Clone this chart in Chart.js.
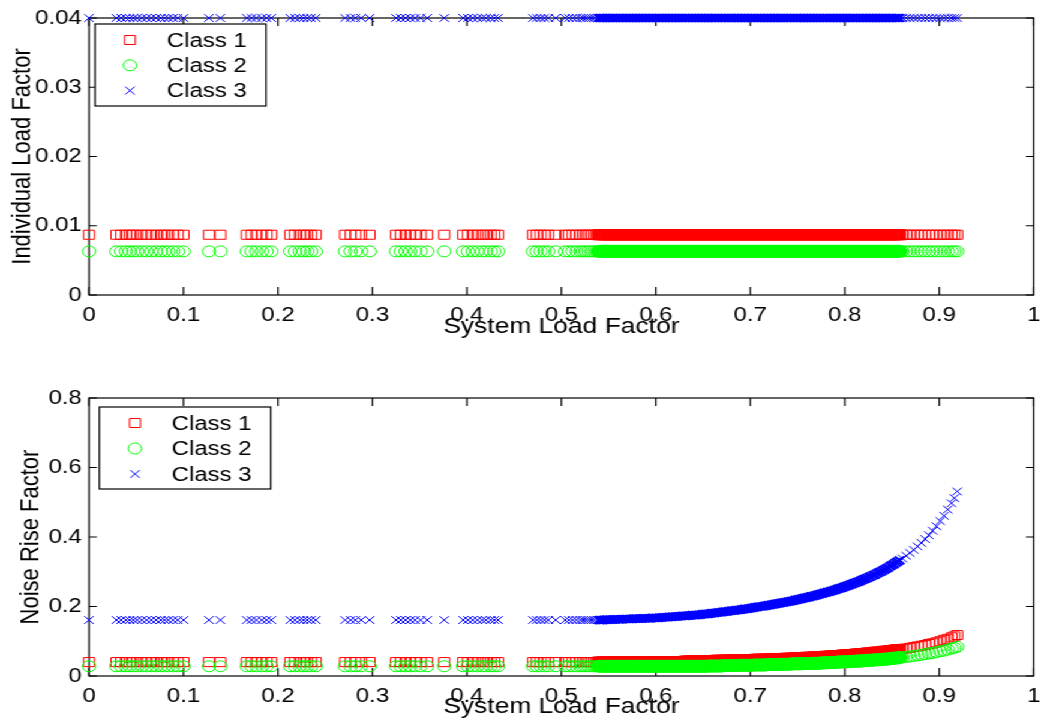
<!DOCTYPE html>
<html>
<head>
<meta charset="utf-8">
<script src="https://cdn.jsdelivr.net/npm/chart.js@4.4.0/dist/chart.umd.min.js"></script>
<style>
  html, body { margin: 0; padding: 0; background: #fff; overflow: hidden; }
  /* the original figure is stretched sideways, so draw narrower and widen it */
  #wrap { position: absolute; left: 0; top: 0; width: 875px; height: 722px; transform: scaleX(1.2); transform-origin: 0 0; }
  canvas { display: block; }
</style>
</head>
<body>
<div id="wrap">
  <canvas id="chart-load" width="875" height="361"></canvas>
  <canvas id="chart-noise" width="875" height="361"></canvas>
</div>
<script>
// ── Series ──────────────────────────────────────────────
const seriesNames = ['Class 1', 'Class 2', 'Class 3'];
const seriesColors = ['#ff0000', '#00ff00', '#0000ff'];
const seriesMarkers = ['rect', 'circle', 'crossRot'];

// system load factor, scattered runs below 0.54
const sparseLoad = [0, 0.029, 0.034, 0.039, 0.043, 0.047, 0.051, 0.056, 0.061, 0.066, 0.071, 0.076, 0.080, 0.084, 0.089, 0.094, 0.100,
  0.127, 0.139,
  0.167, 0.172, 0.177, 0.183, 0.188, 0.193,
  0.213, 0.218, 0.223, 0.227, 0.231, 0.235, 0.240,
  0.271, 0.277, 0.282, 0.288, 0.297,
  0.325, 0.330, 0.335, 0.340, 0.345, 0.351, 0.358,
  0.376,
  0.396, 0.401, 0.406, 0.411, 0.416, 0.420, 0.425, 0.429, 0.433,
  0.470, 0.474, 0.478, 0.482, 0.486, 0.494,
  0.504, 0.508, 0.512, 0.516, 0.520, 0.523, 0.526, 0.529, 0.532, 0.535, 0.538];

// dense runs 0.54 .. 0.86
const denseLoad = [
  0.540, 0.542, 0.544, 0.546, 0.548, 0.550, 0.552, 0.554, 0.556, 0.558,
  0.560, 0.562, 0.564, 0.566, 0.568, 0.570, 0.572, 0.574, 0.576, 0.578,
  0.580, 0.582, 0.584, 0.586, 0.588, 0.590, 0.592, 0.594, 0.596, 0.598,
  0.600, 0.602, 0.604, 0.606, 0.608, 0.610, 0.612, 0.614, 0.616, 0.618,
  0.620, 0.622, 0.624, 0.626, 0.628, 0.630, 0.632, 0.634, 0.636, 0.638,
  0.640, 0.642, 0.644, 0.646, 0.648, 0.650, 0.652, 0.654, 0.656, 0.658,
  0.660, 0.662, 0.664, 0.666, 0.668, 0.670, 0.672, 0.674, 0.676, 0.678,
  0.680, 0.682, 0.684, 0.686, 0.688, 0.690, 0.692, 0.694, 0.696, 0.698,
  0.700, 0.702, 0.704, 0.706, 0.708, 0.710, 0.712, 0.714, 0.716, 0.718,
  0.720, 0.722, 0.724, 0.726, 0.728, 0.730, 0.732, 0.734, 0.736, 0.738,
  0.740, 0.742, 0.744, 0.746, 0.748, 0.750, 0.752, 0.754, 0.756, 0.758,
  0.760, 0.762, 0.764, 0.766, 0.768, 0.770, 0.772, 0.774, 0.776, 0.778,
  0.780, 0.782, 0.784, 0.786, 0.788, 0.790, 0.792, 0.794, 0.796, 0.798,
  0.800, 0.802, 0.804, 0.806, 0.808, 0.810, 0.812, 0.814, 0.816, 0.818,
  0.820, 0.822, 0.824, 0.826, 0.828, 0.830, 0.832, 0.834, 0.836, 0.838,
  0.840, 0.842, 0.844, 0.846, 0.848, 0.850, 0.852, 0.854, 0.856, 0.858];

// last runs up to 0.92
const tailLoad = [0.861, 0.865, 0.869, 0.873, 0.877, 0.881, 0.885, 0.889, 0.893, 0.897, 0.901, 0.905, 0.909, 0.913, 0.916, 0.919];

// individual load factor per class (same on every run)
const indivLoad = [0.0087, 0.0063, 0.04];

// noise rise factor for the scattered runs
const noiseFlat = [0.040, 0.028, 0.161];

// noise rise factor for dense + tail runs
const noiseClass1 = [
  0.040, 0.040, 0.040, 0.040, 0.040, 0.040, 0.040, 0.040, 0.040, 0.040,
  0.040, 0.040, 0.040, 0.040, 0.040, 0.040, 0.040, 0.040, 0.040, 0.040,
  0.040, 0.040, 0.040, 0.040, 0.040, 0.040, 0.040, 0.040, 0.041, 0.041,
  0.041, 0.041, 0.041, 0.041, 0.041, 0.041, 0.041, 0.042, 0.042, 0.042,
  0.042, 0.042, 0.042, 0.042, 0.042, 0.042, 0.043, 0.043, 0.043, 0.043,
  0.043, 0.043, 0.043, 0.043, 0.044, 0.044, 0.044, 0.044, 0.044, 0.044,
  0.044, 0.044, 0.045, 0.045, 0.045, 0.045, 0.045, 0.045, 0.045, 0.046,
  0.046, 0.046, 0.046, 0.046, 0.046, 0.046, 0.047, 0.047, 0.047, 0.047,
  0.047, 0.047, 0.047, 0.048, 0.048, 0.048, 0.048, 0.048, 0.048, 0.049,
  0.049, 0.049, 0.049, 0.049, 0.050, 0.050, 0.050, 0.050, 0.050, 0.051,
  0.051, 0.051, 0.051, 0.052, 0.052, 0.052, 0.052, 0.053, 0.053, 0.053,
  0.054, 0.054, 0.054, 0.054, 0.055, 0.055, 0.055, 0.056, 0.056, 0.056,
  0.057, 0.057, 0.057, 0.058, 0.058, 0.058, 0.059, 0.059, 0.059, 0.060,
  0.060, 0.061, 0.061, 0.061, 0.062, 0.062, 0.063, 0.063, 0.064, 0.064,
  0.065, 0.065, 0.066, 0.066, 0.067, 0.067, 0.068, 0.068, 0.069, 0.069,
  0.070, 0.071, 0.071, 0.072, 0.073, 0.073, 0.074, 0.075, 0.076, 0.076,
  0.078, 0.079, 0.081, 0.083, 0.085, 0.087, 0.089, 0.092, 0.094, 0.097, 0.100, 0.104, 0.107, 0.111, 0.114, 0.118];

const noiseClass2 = [
  0.028, 0.028, 0.028, 0.028, 0.028, 0.028, 0.028, 0.028, 0.028, 0.028,
  0.028, 0.028, 0.028, 0.028, 0.028, 0.028, 0.028, 0.028, 0.028, 0.028,
  0.028, 0.028, 0.028, 0.028, 0.028, 0.028, 0.028, 0.028, 0.028, 0.028,
  0.028, 0.028, 0.028, 0.028, 0.028, 0.028, 0.028, 0.028, 0.028, 0.028,
  0.028, 0.028, 0.028, 0.028, 0.028, 0.028, 0.028, 0.028, 0.028, 0.028,
  0.028, 0.028, 0.028, 0.028, 0.028, 0.028, 0.028, 0.028, 0.029, 0.029,
  0.029, 0.029, 0.029, 0.029, 0.029, 0.029, 0.030, 0.030, 0.030, 0.030,
  0.030, 0.030, 0.030, 0.030, 0.031, 0.031, 0.031, 0.031, 0.031, 0.031,
  0.031, 0.031, 0.032, 0.032, 0.032, 0.032, 0.032, 0.032, 0.032, 0.033,
  0.033, 0.033, 0.033, 0.033, 0.033, 0.033, 0.034, 0.034, 0.034, 0.034,
  0.034, 0.034, 0.035, 0.035, 0.035, 0.035, 0.035, 0.035, 0.036, 0.036,
  0.036, 0.036, 0.036, 0.037, 0.037, 0.037, 0.037, 0.037, 0.038, 0.038,
  0.038, 0.038, 0.039, 0.039, 0.039, 0.039, 0.040, 0.040, 0.040, 0.041,
  0.041, 0.041, 0.041, 0.042, 0.042, 0.042, 0.043, 0.043, 0.043, 0.044,
  0.044, 0.044, 0.045, 0.045, 0.045, 0.046, 0.046, 0.047, 0.047, 0.047,
  0.048, 0.048, 0.049, 0.049, 0.050, 0.051, 0.051, 0.052, 0.052, 0.053,
  0.054, 0.055, 0.056, 0.058, 0.059, 0.061, 0.063, 0.065, 0.066, 0.069, 0.071, 0.073, 0.076, 0.079, 0.081, 0.084];

const noiseClass3 = [
  0.161, 0.161, 0.161, 0.162, 0.162, 0.162, 0.162, 0.162, 0.163, 0.163,
  0.163, 0.163, 0.163, 0.164, 0.164, 0.164, 0.164, 0.164, 0.165, 0.165,
  0.165, 0.165, 0.165, 0.166, 0.166, 0.166, 0.166, 0.166, 0.167, 0.167,
  0.167, 0.167, 0.168, 0.168, 0.169, 0.169, 0.169, 0.170, 0.170, 0.171,
  0.171, 0.171, 0.172, 0.172, 0.173, 0.173, 0.173, 0.174, 0.174, 0.175,
  0.175, 0.175, 0.176, 0.176, 0.177, 0.178, 0.178, 0.179, 0.179, 0.180,
  0.181, 0.181, 0.182, 0.183, 0.183, 0.184, 0.185, 0.185, 0.186, 0.187,
  0.188, 0.188, 0.189, 0.190, 0.190, 0.191, 0.192, 0.193, 0.193, 0.194,
  0.195, 0.196, 0.197, 0.198, 0.199, 0.200, 0.200, 0.201, 0.202, 0.203,
  0.204, 0.205, 0.206, 0.207, 0.208, 0.209, 0.210, 0.211, 0.212, 0.213,
  0.214, 0.215, 0.216, 0.217, 0.219, 0.220, 0.221, 0.222, 0.224, 0.225,
  0.226, 0.227, 0.229, 0.230, 0.231, 0.233, 0.234, 0.236, 0.237, 0.239,
  0.240, 0.242, 0.243, 0.245, 0.246, 0.248, 0.250, 0.252, 0.253, 0.255,
  0.257, 0.259, 0.261, 0.263, 0.265, 0.267, 0.269, 0.271, 0.273, 0.276,
  0.278, 0.280, 0.282, 0.285, 0.287, 0.290, 0.292, 0.295, 0.298, 0.300,
  0.303, 0.306, 0.309, 0.312, 0.316, 0.319, 0.322, 0.326, 0.329, 0.333,
  0.338, 0.346, 0.354, 0.363, 0.373, 0.383, 0.394, 0.405, 0.418, 0.431, 0.446, 0.461, 0.479, 0.497, 0.512, 0.531];

const noiseCurves = [noiseClass1, noiseClass2, noiseClass3];

// ── Ticks ───────────────────────────────────────────────
const xTicks = [0, 0.1, 0.2, 0.3, 0.4, 0.5, 0.6, 0.7, 0.8, 0.9, 1];
const xTickLabels = ['0', '0.1', '0.2', '0.3', '0.4', '0.5', '0.6', '0.7', '0.8', '0.9', '1'];
const loadTicks = [0, 0.01, 0.02, 0.03, 0.04];
const loadTickLabels = ['0', '0.01', '0.02', '0.03', '0.04'];
const noiseTicks = [0, 0.2, 0.4, 0.6, 0.8];
const noiseTickLabels = ['0', '0.2', '0.4', '0.6', '0.8'];

// ── Styling helpers ─────────────────────────────────────
const FONT = '"Liberation Sans", Arial, Helvetica, sans-serif';
const tickFont = { family: FONT, size: 20 };
const titleFont = { family: FONT, size: 22 };
const markerRadius = [6.4, 5.5, 5.5];
const denseStart = sparseLoad.length;
const denseEnd = sparseLoad.length + denseLoad.length;

function makeDataset(i, points) {
  return {
    label: seriesNames[i],
    data: points,
    showLine: false,
    pointStyle: seriesMarkers[i],
    pointRadius: markerRadius[i],
    pointHoverRadius: markerRadius[i],
    // overlapping runs in the dense stretch read as a solid band
    pointBorderWidth: c => (c.dataIndex >= denseStart && c.dataIndex < denseEnd ? 2 : 1),
    borderColor: seriesColors[i],
    pointBorderColor: seriesColors[i],
    backgroundColor: 'rgba(0,0,0,0)',
    pointBackgroundColor: 'rgba(0,0,0,0)',
    clip: false,
    order: 2 - i,
  };
}

// MATLAB style box with inward ticks on all four sides
const matlabFrame = {
  id: 'matlabFrame',
  beforeDatasetsDraw(chart) {
    const { ctx, chartArea: a, scales: { x, y } } = chart;
    ctx.save();
    ctx.strokeStyle = '#000';
    ctx.lineWidth = 1.2;
    ctx.strokeRect(a.left, a.top, a.right - a.left, a.bottom - a.top);
    ctx.beginPath();
    x.ticks.forEach(t => {
      const px = x.getPixelForValue(t.value);
      ctx.moveTo(px, a.bottom); ctx.lineTo(px, a.bottom - 8);
      ctx.moveTo(px, a.top); ctx.lineTo(px, a.top + 8);
    });
    y.ticks.forEach(t => {
      const py = y.getPixelForValue(t.value);
      ctx.moveTo(a.left, py); ctx.lineTo(a.left + 6.5, py);
      ctx.moveTo(a.right, py); ctx.lineTo(a.right - 6.5, py);
    });
    ctx.stroke();
    ctx.restore();
  }
};

// boxed legend in the upper-left corner
const boxLegend = {
  id: 'boxLegend',
  afterDatasetsDraw(chart, args, opts) {
    const ctx = chart.ctx;
    ctx.save();
    ctx.fillStyle = '#fff';
    ctx.fillRect(opts.left, opts.top, opts.width, opts.height);
    ctx.strokeStyle = '#000';
    ctx.lineWidth = 1.2;
    ctx.strokeRect(opts.left, opts.top, opts.width, opts.height);
    chart.data.datasets.forEach((ds, i) => {
      const y = opts.top + opts.firstRow + i * opts.rowGap;
      ctx.fillStyle = 'rgba(0,0,0,0)';
      ctx.strokeStyle = ds.borderColor;
      ctx.lineWidth = 1;
      Chart.helpers.drawPoint(ctx, { pointStyle: ds.pointStyle, radius: ds.pointRadius, borderWidth: 1, rotation: 0 }, opts.markerX, y);
      ctx.fillStyle = '#000';
      ctx.font = '20px ' + FONT;
      ctx.textBaseline = 'middle';
      ctx.textAlign = 'left';
      ctx.fillText(ds.label, opts.textX, y + 1);
    });
    ctx.restore();
  }
};

function xAxis(height, titleBottom) {
  return {
    type: 'linear', min: 0, max: 1,
    afterBuildTicks: s => { s.ticks = xTicks.map(v => ({ value: v })); },
    afterFit: s => { s.height = height; },
    grid: { display: false, drawTicks: false },
    border: { display: false },
    ticks: { color: '#000', font: tickFont, padding: 8, maxRotation: 0, autoSkip: false,
      callback: (v, i) => xTickLabels[i] },
    title: { display: true, text: 'System Load Factor', color: '#000', font: titleFont,
      padding: { top: 0, bottom: titleBottom } }
  };
}

function yAxis(max, ticks, labels, title, titleLeft) {
  return {
    type: 'linear', min: 0, max: max,
    afterBuildTicks: s => { s.ticks = ticks.map(v => ({ value: v })); },
    afterFit: s => { s.width = 74.2; },
    grid: { display: false, drawTicks: false },
    border: { display: false },
    ticks: { color: '#000', font: tickFont, padding: 6, autoSkip: false,
      callback: (v, i) => labels[i] },
    title: { display: true, text: title, color: '#000', font: titleFont,
      padding: { top: titleLeft, bottom: 0 } }
  };
}

const allLoad = sparseLoad.concat(denseLoad, tailLoad);
const curveLoad = denseLoad.concat(tailLoad);

// ── Top: individual load factor ─────────────────────────
new Chart(document.getElementById('chart-load'), {
  type: 'scatter',
  data: {
    datasets: [0, 1, 2].map(i => makeDataset(i, allLoad.map(x => ({ x, y: indivLoad[i] }))))
  },
  options: {
    responsive: false,
    animation: false,
    devicePixelRatio: 1,
    layout: { padding: { top: 16, right: 6.7, left: 0, bottom: 0 } },
    scales: {
      x: xAxis(66, 21),
      y: yAxis(0.04, loadTicks, loadTickLabels, 'Individual Load Factor', 5.5)
    },
    plugins: {
      legend: { display: false },
      tooltip: { enabled: false },
      boxLegend: { left: 79.2, top: 24, width: 142.5, height: 82, firstRow: 16, rowGap: 25.3, markerX: 108.3, textX: 139 }
    }
  },
  plugins: [matlabFrame, boxLegend]
});

// ── Bottom: noise rise factor ───────────────────────────
new Chart(document.getElementById('chart-noise'), {
  type: 'scatter',
  data: {
    datasets: [0, 1, 2].map(i => makeDataset(i,
      sparseLoad.map(x => ({ x, y: noiseFlat[i] }))
        .concat(curveLoad.map((x, j) => ({ x, y: noiseCurves[i][j] })))))
  },
  options: {
    responsive: false,
    animation: false,
    devicePixelRatio: 1,
    layout: { padding: { top: 37, right: 6.7, left: 0, bottom: 0 } },
    scales: {
      x: xAxis(46, 2),
      y: yAxis(0.8, noiseTicks, noiseTickLabels, 'Noise Rise Factor', 13.2)
    },
    plugins: {
      legend: { display: false },
      tooltip: { enabled: false },
      boxLegend: { left: 82.8, top: 46, width: 142.8, height: 82, firstRow: 16, rowGap: 25.5, markerX: 112.5, textX: 143 }
    }
  },
  plugins: [matlabFrame, boxLegend]
});
</script>
</body>
</html>
